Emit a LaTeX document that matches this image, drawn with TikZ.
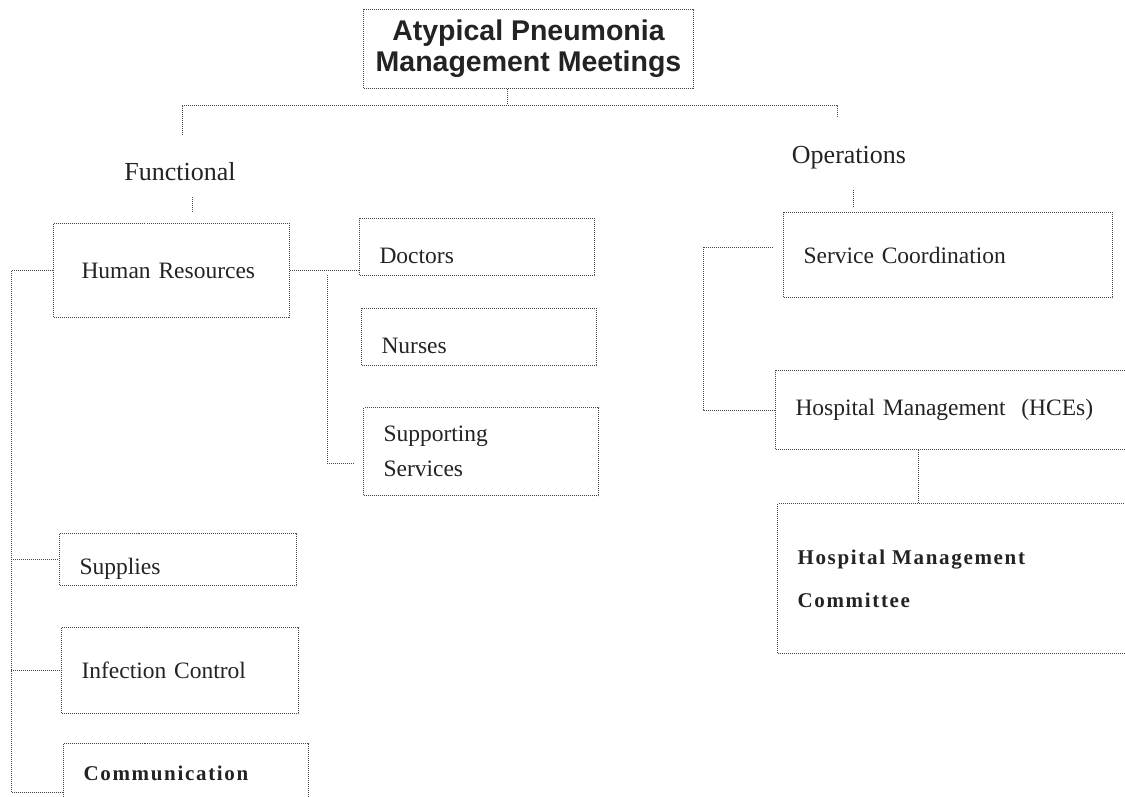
\documentclass[tikz,border=0pt]{standalone}
\usepackage{fontspec}
\setmainfont{Liberation Serif}
\newfontfamily\titlefont{Liberation Sans}
\newfontfamily\boldlbl[LetterSpace=8]{Liberation Serif}
\definecolor{scanline}{RGB}{70, 70, 70}
\definecolor{scanink}{RGB}{35, 35, 35}

\begin{document}
\begin{tikzpicture}[x=1pt, y=-1pt,
                    link/.style={draw=scanline, densely dotted, line width=1pt},
                    unitbox/.style={link, anchor=north west, inner xsep=20pt, inner ysep=0pt, align=left, text=scanink, font=\fontsize{23.5}{35}\selectfont},
                    boldunit/.style={unitbox, font=\boldlbl\bfseries\fontsize{21}{43}\selectfont},
                    branch/.style={text=scanink, font=\fontsize{26}{30}\selectfont}]
                    \useasboundingbox (0,0) rectangle (1125,796);
                    \clip (0,0) rectangle (1125,796);
                    \node[link, anchor=north west, minimum width=330pt, minimum height=79pt, inner sep=0pt, align=center, text=scanink, font=\titlefont\bfseries\fontsize{28.5}{31}\selectfont] (apm) at (363,9) {Atypical Pneumonia\\Management Meetings};
                    \node[branch] (fun) at (180,172) {Functional};
                    \node[branch] (ops) at (849,158) {Operations};
                    % functional side
                    \node[unitbox, inner xsep=28pt, text width=180pt, minimum height=94pt] (hr) at (53,223) {Human Resources};
                    \node[unitbox, text width=195pt, minimum height=57pt, text height=34pt] (doc) at (359,218) {Doctors};
                    \node[unitbox, text width=195pt, minimum height=57pt, text height=34pt] (nur) at (361,308) {Nurses};
                    \node[unitbox, text width=195pt, minimum height=88pt] (ss) at (363,407) {Supporting\\Services};
                    \node[unitbox, text width=197pt, minimum height=52pt, text height=34pt] (sup) at (59,533) {Supplies};
                    \node[unitbox, text width=197pt, minimum height=86pt] (ic) at (61,627) {Infection Control};
                    \node[boldunit, text width=205pt, minimum height=60pt] (com) at (63,743) {Communication};
                    % operations side
                    \node[unitbox, text width=289pt, minimum height=85pt] (sc) at (783,212) {Service Coordination};
                    \node[unitbox, text width=325pt, minimum height=79pt] (hce) at (775,370) {Hospital Management~ (HCEs)};
                    \node[boldunit, text width=323pt, minimum height=150pt] (hmc) at (777,503) {Hospital Management\\Committee};
                    % top bus
                    \coordinate (bl) at (182,105);
                    \coordinate (br) at (837,105);
                    \coordinate (bt) at (507,105);
                    \coordinate (fl) at (182,135);
                    \coordinate (ol) at (837,117);
                    \draw[link] (apm.south -| bt) -- (bt);
                    \draw[link] (fl) -- (bl) -- (br) -- (ol);
                    \coordinate (ft) at (192,197);
                    \coordinate (ot) at (853,190);
                    \draw[link] (ft) -- ++(0,16);
                    \draw[link] (ot) -- ++(0,17);
                    % human resources branches
                    \draw[link] (hr.east) -- (hr.east -| doc.west);
                    \coordinate (hd) at (327,275);
                    \coordinate (sv) at (355,463);
                    \draw[link] (hd) |- (sv);
                    % No edge to Nurses
                    \coordinate (lb) at (11,792);
                    \coordinate (cb) at (63,792);
                    \draw[link] (hr.west) -| (lb) -- (cb);
                    \draw[link] (lb |- sup.west) -- (sup.west);
                    \draw[link] (lb |- ic.west) -- (ic.west);
                    % operations links
                    \coordinate (sl) at (773,247);
                    \coordinate (rb) at (703,247);
                    \draw[link] (sl) -- (rb) |- (hce.west);
                    \coordinate (hv) at (918,476);
                    \draw[link] (hce.south -| hv) -- (hmc.north -| hv);
                \end{tikzpicture}
\end{document}
